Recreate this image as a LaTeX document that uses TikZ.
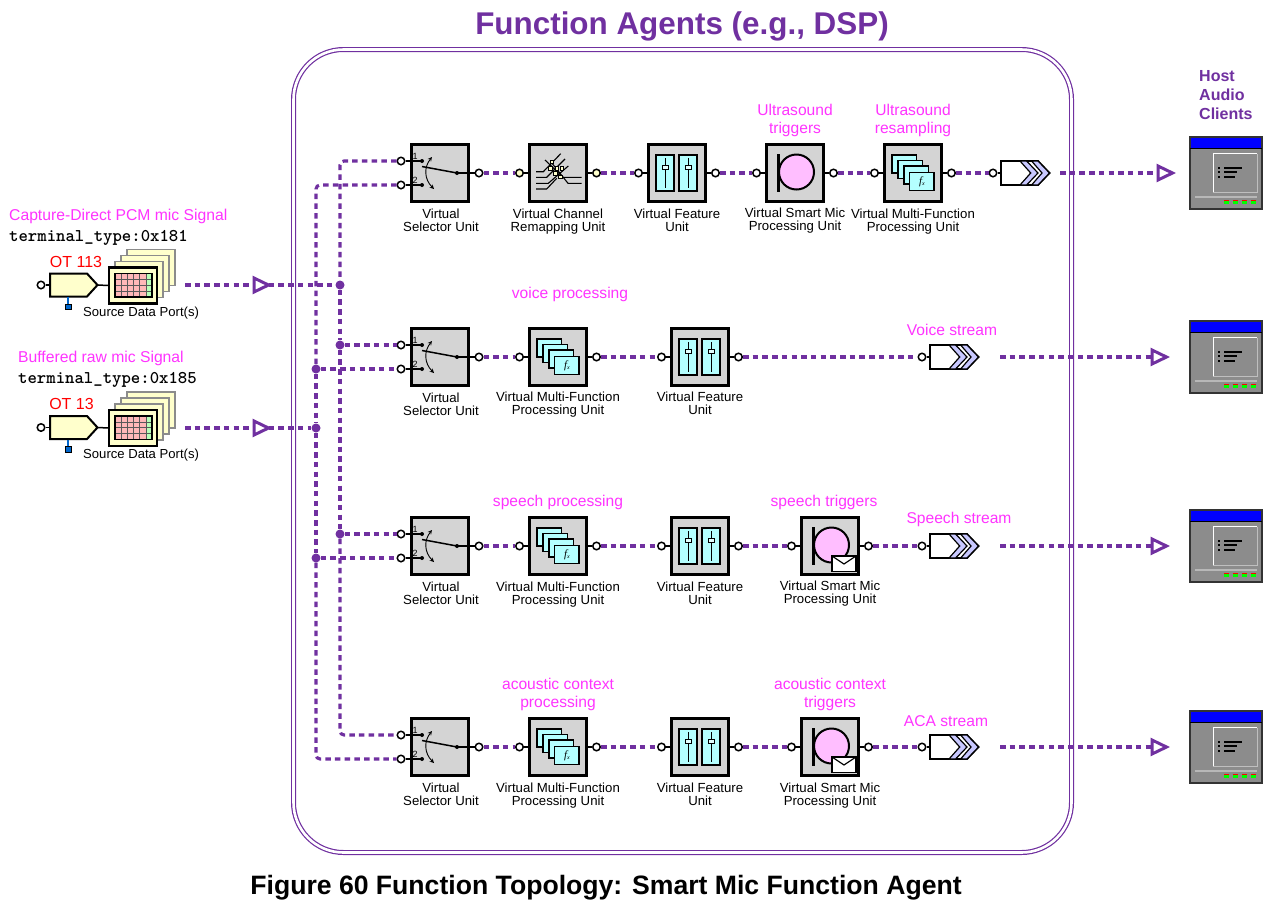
\documentclass[tikz,border=0pt]{standalone}
\usepackage{fontspec}
\setmainfont{Liberation Sans}
\usetikzlibrary{calc}
\definecolor{fpurple}{HTML}{7030A0}
\definecolor{fmag}{HTML}{FF33FF}
\definecolor{fgray}{HTML}{D4D4D4}
\definecolor{fcyan}{HTML}{B4FFFF}
\definecolor{fpink}{HTML}{FFBEFF}
\definecolor{fyel}{HTML}{FFFFCC}
\definecolor{flav}{HTML}{C8C8FF}
\newcommand\fz[1]{\fontsize{#1}{#1}\selectfont}
\tikzset{
 ubox/.style={draw=black,line width=3pt,fill=fgray,minimum size=57pt,inner sep=0pt},
 port/.style={circle,draw=black,line width=1.5pt,fill=white,minimum size=7.5pt,inner sep=0pt},
 stem/.style={draw=black,line width=1.5pt},
 flow/.style={draw=fpurple,line width=3.1pt,dash pattern=on 5.5pt off 4.2pt},
 busdot/.style={circle,fill=fpurple,minimum size=9pt,inner sep=0pt},
 ulab/.style={align=center,font=\fontsize{13.2}{13}\selectfont,inner sep=0pt},
 mlab/.style={align=center,font=\fz{15.6},text=fmag,inner sep=0pt},
 sheet/.style={draw=black,line width=1.6pt,fill=fcyan},
 trianchor/.style={inner sep=0pt,minimum size=15pt},
 trishape/.style={draw=fpurple,line width=3pt,fill=white,line join=miter},
 code/.style={font=\ttfamily\bfseries\fz{17.9},anchor=west,inner sep=0pt},
}
% box with its two ports
\newcommand\fauBox[4][white]{%
 \node[ubox] (#2) at (#3,#4) {};
 \node[port,fill=#1] (#2l) at (#3-38.5,#4) {};
 \node[port,fill=#1] (#2r) at (#3+38.5,#4) {};
 \draw[stem] (#2l) -- (#2); \draw[stem] (#2) -- (#2r);}
% selector unit: name, cy, upper input y offset, lower input y offset
\newcommand\fauSel[3]{%
 \node[ubox] (#1) at (440,#2) {};
 \node[port] (#1a) at (401,#2-#3) {};
 \node[port] (#1b) at (401,#2+#3) {};
 \node[port] (#1r) at (479,#2) {};
 \begin{scope}[shift={(440,#2)}]
  \draw[stem] (#1a) -- (-18,-#3);
  \draw[stem] (#1b) -- (-18,#3);
  \fill (-18,-#3) circle (2); \fill (-18,#3) circle (2);
  \draw[line width=1.5pt] (-18,-6.5) -- (17,0);
  \fill (17,0) circle (2);
  \draw[stem] (17,0) -- (#1r);
  \draw[line width=.9pt,<->,>=stealth] (-8,-16) .. controls (-16,-6) and (-16,6) .. (-6,16);
  \node[font=\fz{9},inner sep=0pt] (#1n1) at (-25,-17) {1};
  \node[font=\fz{9},inner sep=0pt] (#1n2) at (-25,7) {2};
 \end{scope}}
\newcommand\fauSheets[2]{%
 \begin{scope}[shift={(#1,#2)}]
  \draw[sheet] (-21,-18) rectangle +(24.5,18);
  \draw[sheet] (-15,-12.5) rectangle +(24.5,18);
  \draw[sheet] (-9,-7) rectangle +(24.5,18);
  \draw[sheet] (-3.5,-.5) rectangle +(24.5,18);
  \node[font=\fz{11},inner sep=0pt] at (9,8.5) {\fontspec{Liberation Serif}\itshape f\fz{6}\raisebox{-1pt}{x}};
 \end{scope}}
\newcommand\fauFeat[2]{%
 \begin{scope}[shift={(#1,#2)}]
  \draw[line width=2pt,fill=fcyan] (-21,-18) rectangle (-3,18);
  \draw[line width=2pt,fill=fcyan] (2,-18) rectangle (20,18);
  \draw[line width=1pt] (-12,-15) -- (-12,15);
  \draw[line width=1pt] (11,-15) -- (11,15);
  \draw[line width=1pt,fill=fcyan!40] (-15,-8) rectangle (-9,-4);
  \draw[line width=1pt,fill=fcyan!40] (8,-8) rectangle (14,-4);
 \end{scope}}
\newcommand\fauMic[2]{%
 \begin{scope}[shift={(#1,#2)}]
  \draw[line width=3pt] (-17,-19) -- (-17,19);
  \draw[line width=2pt,fill=fpink] (1.5,-1) circle (17.5);
 \end{scope}}
\newcommand\fauMicEnv[2]{%
 \fauMic{#1}{#2}
 \begin{scope}[shift={(#1,#2)}]
  \draw[line width=1.8pt,fill=white] (2,10) rectangle (26,25.5);
  \draw[line width=1.2pt] (2,10) -- (14,18) -- (26,10);
 \end{scope}}
\newcommand\fauRemap[2]{%
 \begin{scope}[shift={(#1,#2)}]
  \draw[line width=1.1pt] (-22,-1.3) -- (-14.7,-1.3) -- (2.7,-19.3);
  \draw[line width=1.1pt] (-22,4.3) -- (-11.3,4.3) -- (7,-14);
  \draw[line width=1.1pt] (-22,10.3) -- (-9.7,10.3) -- (10.3,-7);
  \draw[line width=1.1pt] (-22,16) -- (-11.3,16) -- (-1.3,5.3);
  \draw[line width=1.1pt] (-13,-13) -- (5,4.3) -- (23.7,4.3);
  \draw[line width=1.1pt] (-7,-11) -- (10,10.3) -- (23.7,10.3);
  \foreach \qx/\qy in {-6.3/-11.3,-8/-4.7,-1.3/-4.7,-3/.3,3.7/-4.7,2/3.7}
   \draw[line width=.4pt,fill=fyel] (\qx-1.7,\qy-1.7) rectangle (\qx+1.7,\qy+1.7);
 \end{scope}}
% stream: name, left edge x, cy
\newcommand\fauStream[3]{%
 \node[port] (#1p) at (#2-8,#3) {};
 \node[inner sep=0pt,minimum width=48pt,minimum height=24pt] (#1) at (#2+24,#3) {};
 \draw[stem] (#1p) -- (#1.west);
 \begin{scope}[shift={(#2,#3)}]
  \draw[line width=1.8pt,fill=white] (0,-12) -- (37,-12) -- (48.5,0) -- (37,12) -- (0,12) -- cycle;
  \draw[line width=1.2pt,fill=flav] (19,-12) -- (25.6,-12) -- (37,0) -- (25.6,12) -- (19,12) -- (29.7,0) -- cycle;
  \draw[line width=1.2pt,fill=flav] (30.6,-12) -- (37,-12) -- (48.5,0) -- (37,12) -- (30.6,12) -- (41,0) -- cycle;
 \end{scope}}
\newcommand\fauTri[3]{%
 \node[trianchor] (#1) at (#2,#3) {};
 \draw[trishape] (#2-7,#3-7) -- (#2+7.5,#3) -- (#2-7,#3+7) -- cycle;}
\newcommand\fauClient[2]{%
 \begin{scope}[shift={(#1,#2)}]
  \fill[black!45] (0,0) rectangle (72,72);
  \fill[blue] (0,0) rectangle (72,11);
  \draw[black!80,line width=1.3pt] (0,0) rectangle (72,72);
  \draw[black,line width=.7pt] (0,11) -- (72,11);
  \draw[white,line width=1pt] (23.3,55.7) -- (23.3,16.7) -- (67.3,16.7);
  \draw[black!25,line width=1pt] (67.3,16.7) -- (67.3,55.7) -- (23.3,55.7);
  \fill (28,29.5) rectangle +(2.2,2.2);
  \fill (28,34) rectangle +(2.2,2.2);
  \fill (28,38.5) rectangle +(2.2,2.2);
  \fill (34,29.5) rectangle (52,31.5);
  \fill (34,34) rectangle (47,36);
  \fill (34,38.5) rectangle (45,40.5);
  \fill[black!28] (5,58.5) rectangle (67,61);
  \foreach \qx in {33.5,42.5,51.5,60.5} {
   \fill[red] (\qx,62.8) rectangle +(5.4,4.6);
   \fill[green] (\qx+.7,63.5) rectangle +(4.7,3.9);}
 \end{scope}}
% output terminal and stacked data ports: suffix, cy
\newcommand\fauSource[2]{%
 \node[port] (ot#1p) at (41,#2) {};
 \node[inner sep=0pt,minimum width=47pt,minimum height=24pt] (ot#1) at (73.5,#2) {};
 \draw[stem] (ot#1p) -- (ot#1.west);
 \node[inner sep=0pt,minimum width=48pt,minimum height=36pt] (sd#1) at (133,#2+.5) {};
 \draw[stem] (ot#1.east) -- (sd#1.west);
 \begin{scope}[shift={(0,#2)}]
  \draw[line width=2pt,fill=fyel] (50,-11.5) -- (87,-11.5) -- (97.5,0) -- (87,11.5) -- (50,11.5) -- cycle;
  \draw[line width=1.2pt,draw=blue!50!cyan!80!black] (68,12) -- (68,19);
  \draw[line width=1pt,fill=blue!50!cyan!80!black] (65,19) rectangle (71,24.5);
  \foreach \qo in {3,2,1}
   \draw[draw=black!45,line width=1.8pt,fill=fyel] (109+6*\qo,-17.5-6*\qo) rectangle +(48,36);
  \draw[line width=2.6pt,fill=fyel] (109,-17.5) rectangle (157,18.5);
  \fill[red!28] (115,-11.5) rectangle (146,12);
  \fill[green!28] (146,-11.5) rectangle (152,12);
  \foreach \qx in {121,127,133,139,146} \draw[black!65,line width=.8pt] (\qx,-11.5) -- (\qx,12);
  \foreach \qy in {-5.6,.3,6.2} \draw[black!65,line width=.8pt] (115,\qy) -- (152,\qy);
  \draw[line width=1.6pt] (115,-11.5) rectangle (152,12);
 \end{scope}}
\begin{document}
\begin{tikzpicture}[x=1pt,y=-1pt]
\useasboundingbox (0,0) rectangle (1274,903);
\fill[white] (0,0) rectangle (1274,903);
% titles
\node[font=\bfseries\fz{31.4},text=fpurple,inner sep=0pt] (title) at (682,26.5) {Function Agents (e.g., DSP)};
\node[font=\bfseries\fz{26.6},inner sep=0pt] (caption) at (606,887.5) {Figure 60 Function Topology: Smart Mic Function Agent};
\node[draw=fpurple,line width=1.2pt,double=white,double distance=2.6pt,rounded corners=50pt,minimum width=778pt,minimum height=803pt,inner sep=0pt] (frame) at (682.5,451) {};
\node[font=\bfseries\fz{16},text=fpurple,align=left,anchor=west,inner sep=0pt] (host) at (1199,95) {Host\\[2.8pt]Audio\\[2.8pt]Clients};
% sources
\node[font=\fz{15.7},text=fmag,anchor=west,inner sep=0pt] (lab1) at (9,216) {Capture-Direct PCM mic Signal};
\node[code] (code1) at (9,237.5) {terminal\_type:0x181};
\node[font=\fz{16},text=red,inner sep=0pt] (ot1lab) at (76,261.5) {OT 113};
\fauSource{1}{285}
\node[font=\fz{13.1},anchor=west,inner sep=0pt] (sp1) at (83,313) {Source Data Port(s)};
\node[font=\fz{15.7},text=fmag,anchor=west,inner sep=0pt] (lab2) at (18,358) {Buffered raw mic Signal};
\node[code] (code2) at (18,379.5) {terminal\_type:0x185};
\node[font=\fz{16},text=red,inner sep=0pt] (ot2lab) at (71.5,403.5) {OT 13};
\fauSource{2}{427.5}
\node[font=\fz{13.1},anchor=west,inner sep=0pt] (sp2) at (83,455) {Source Data Port(s)};
% row 1
\fauSel{sa}{173}{12}
\fauBox[fyel]{ra}{558}{173}\fauRemap{558}{173}
\fauBox{fa}{677}{173}\fauFeat{677}{173}
\fauBox{ma}{795}{173}\fauMic{795}{173}
\fauBox{pa}{913}{173}\fauSheets{913}{173}
\fauStream{sta}{1001}{173}
% row 2
\fauSel{sb}{357}{12}
\fauBox{pb}{558}{357}\fauSheets{558}{357}
\fauBox{fb}{700}{357}\fauFeat{700}{357}
\fauStream{stb}{930}{357}
% row 3
\fauSel{sc}{546}{12}
\fauBox{pc}{558}{546}\fauSheets{558}{546}
\fauBox{fc}{700}{546}\fauFeat{700}{546}
\fauBox{mc}{830}{546}\fauMicEnv{830}{546}
\fauStream{stc}{930}{546}
% row 4
\fauSel{sd}{747}{12}
\fauBox{pd}{558}{747}\fauSheets{558}{747}
\fauBox{fd}{700}{747}\fauFeat{700}{747}
\fauBox{md}{830}{747}\fauMicEnv{830}{747}
\fauStream{std}{930}{747}
% unit labels
\node[ulab] (la1) at (441,220) {Virtual\\Selector Unit};
\node[ulab] (la2) at (558,221.5) {Virtual Channel\\Remapping Unit};
\node[ulab] (la3) at (677,220) {Virtual Feature\\Unit};
\node[ulab] (la4) at (795,220.5) {Virtual Smart Mic\\Processing Unit};
\node[ulab] (la5) at (913,221.5) {Virtual Multi-Function\\Processing Unit};
\node[ulab] (lb1) at (441,404) {Virtual\\Selector Unit};
\node[ulab] (lb2) at (558,405) {Virtual Multi-Function\\Processing Unit};
\node[ulab] (lb3) at (700,403.5) {Virtual Feature\\Unit};
\node[ulab] (lc1) at (441,593) {Virtual\\Selector Unit};
\node[ulab] (lc2) at (558,595) {Virtual Multi-Function\\Processing Unit};
\node[ulab] (lc3) at (700,593) {Virtual Feature\\Unit};
\node[ulab] (lc4) at (830,594) {Virtual Smart Mic\\Processing Unit};
\node[ulab] (ld1) at (441,794) {Virtual\\Selector Unit};
\node[ulab] (ld2) at (558,796) {Virtual Multi-Function\\Processing Unit};
\node[ulab] (ld3) at (700,794) {Virtual Feature\\Unit};
\node[ulab] (ld4) at (830,796) {Virtual Smart Mic\\Processing Unit};
% magenta labels
\node[mlab] (ma1) at (795,120.5) {Ultrasound\\[3pt]triggers};
\node[mlab] (ma2) at (913,120.5) {Ultrasound\\[3pt]resampling};
\node[mlab] (mb1) at (570,294) {voice processing};
\node[mlab] (mb2) at (952,330) {Voice stream};
\node[mlab] (mc1) at (558,502) {speech processing};
\node[mlab] (mc2) at (824,502) {speech triggers};
\node[mlab] (mc3) at (959,519) {Speech stream};
\node[mlab] (md1) at (558,694.5) {acoustic context\\[3pt]processing};
\node[mlab] (md2) at (830,694.5) {acoustic context\\[3pt]triggers};
\node[mlab] (md3) at (946,721) {ACA stream};
% clients
\fauClient{1190}{137}
\fauClient{1190}{321}
\fauClient{1190}{510}
\fauClient{1190}{711}
% triangles
\fauTri{ti1}{261}{285}
\fauTri{ti2}{261}{428}
\fauTri{toa}{1165}{173}
\fauTri{tob}{1159}{357}
\fauTri{toc}{1159}{546}
\fauTri{tod}{1159}{747}
\coordinate (si1) at (185,285);
\coordinate (si2) at (185,428);
\coordinate (soa) at (1060,173);
\coordinate (sob) at (1000,357);
\coordinate (soc) at (1000,546);
\coordinate (sod) at (1000,747);
% bus dots
\node[busdot] (a1) at (340,285) {};
\node[busdot] (a2) at (340,345) {};
\node[busdot] (a3) at (340,534) {};
\node[busdot] (b1) at (316,369) {};
\node[busdot] (b2) at (316,428) {};
\node[busdot] (b3) at (316,558) {};
% connectors
\draw[flow] (si1) -- (ti1.west);
\draw[flow] (ti1.east) -- (a1);
\draw[flow] (si2) -- (ti2.west);
\draw[flow] (ti2.east) -- (b2);
\draw[flow,rounded corners=4pt] (saa.west) -| (a1.north);
\draw[flow] (a1) -- (a2);
\draw[flow] (a2) -- (a3);
\draw[flow,rounded corners=4pt] (a3.south) |- (sda.west);
\draw[flow,rounded corners=4pt] (sab.west) -| (b1.north);
\draw[flow] (b1) -- (b2);
\draw[flow] (b2) -- (b3);
\draw[flow,rounded corners=4pt] (b3.south) |- (sdb.west);
\draw[flow] (a2) -- (sba.west);
\draw[flow] (b1) -- (sbb.west);
\draw[flow] (a3) -- (sca.west);
\draw[flow] (b3) -- (scb.west);
% row flows
\draw[flow] (sar) -- (ral);
\draw[flow] (rar) -- (fal);
\draw[flow] (far) -- (mal);
\draw[flow] (mar) -- (pal);
\draw[flow] (par) -- (stap);
\draw[flow] (soa) -- (toa.west);
\draw[flow] (sbr) -- (pbl);
\draw[flow] (pbr) -- (fbl);
\draw[flow] (fbr) -- (stbp);
\draw[flow] (sob) -- (tob.west);
\draw[flow] (scr) -- (pcl);
\draw[flow] (pcr) -- (fcl);
\draw[flow] (fcr) -- (mcl);
\draw[flow] (mcr) -- (stcp);
\draw[flow] (soc) -- (toc.west);
\draw[flow] (sdr) -- (pdl);
\draw[flow] (pdr) -- (fdl);
\draw[flow] (fdr) -- (mdl);
\draw[flow] (mdr) -- (stdp);
\draw[flow] (sod) -- (tod.west);
\end{tikzpicture}
\end{document}
